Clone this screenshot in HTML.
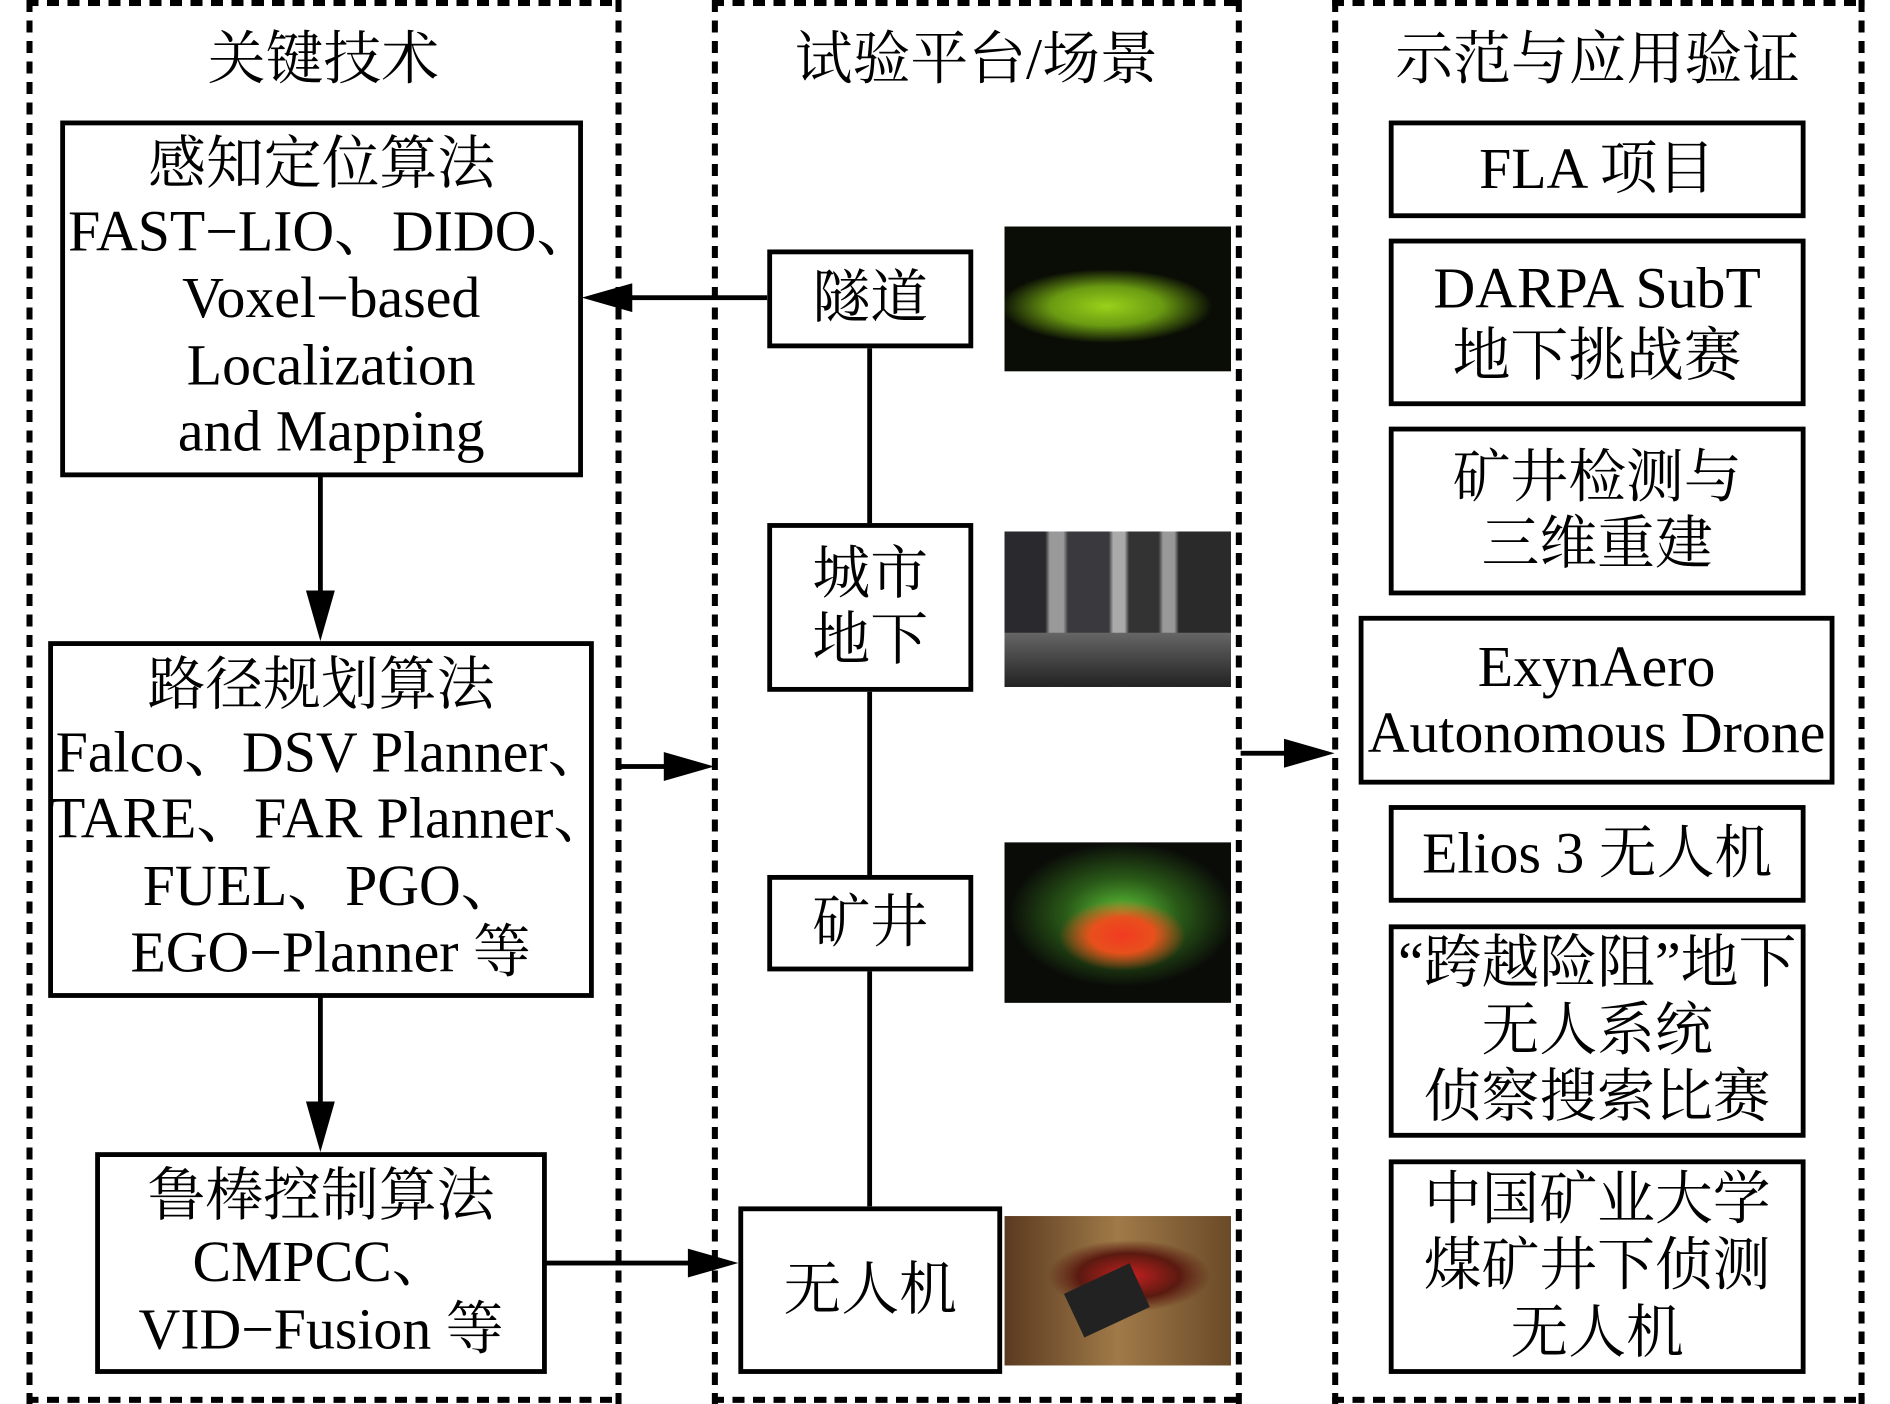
<!DOCTYPE html>
<html><head><meta charset="utf-8"><style>
html,body{margin:0;padding:0;background:#fff;width:1890px;height:1404px;overflow:hidden}
#c{position:absolute;left:0;top:0;width:1556px;height:1165px;transform-origin:0 0;transform:scale(1.2045,1.2052);font-family:"Liberation Serif","Noto Serif CJK SC",serif;color:#000}
.v{position:absolute;top:0;width:5px;height:1165px;background:repeating-linear-gradient(180deg,#000 0 10px,transparent 10px 17px)}
.hz{position:absolute;height:5px;background:repeating-linear-gradient(90deg,#000 0 10px,transparent 10px 17px)}
.h{position:absolute;font-size:48px;text-align:center;line-height:48px}
.b{position:absolute;border:4px solid #000;box-sizing:border-box;display:flex;flex-direction:column;justify-content:center;align-items:center;text-align:center;font-size:48px;line-height:55.5px;white-space:nowrap}
.s{position:relative;left:8px}
.l{position:absolute;background:#000}
.img{position:absolute;overflow:hidden}
</style></head><body><div id="c">
<div class="v" style="left:22px"></div><div class="v" style="left:511px"></div>
<div class="v" style="left:591px"></div><div class="v" style="left:1026px"></div>
<div class="v" style="left:1106px"></div><div class="v" style="left:1543px"></div>
<div class="hz" style="left:22px;width:494px;top:0"></div><div class="hz" style="left:22px;width:494px;top:1159px"></div>
<div class="hz" style="left:591px;width:440px;top:0"></div><div class="hz" style="left:591px;width:440px;top:1159px"></div>
<div class="hz" style="left:1106px;width:442px;top:0"></div><div class="hz" style="left:1106px;width:442px;top:1159px"></div>

<div class="h" style="left:24px;width:489px;top:26px">关键技术</div>
<div class="h" style="left:593px;width:435px;top:26px">试验平台/场景</div>
<div class="h" style="left:1108px;width:437px;top:26px">示范与应用验证</div>

<div class="b" style="left:50px;top:100px;width:434px;height:296px"><div>感知定位算法</div><div class="s">FAST−LIO、DIDO、</div><div class="s">Voxel−based</div><div class="s">Localization</div><div class="s">and Mapping</div></div>
<div class="b" style="left:40px;top:532px;width:453px;height:296px;overflow:visible"><div>路径规划算法</div><div class="s">Falco、DSV Planner、</div><div class="s">TARE、FAR Planner、</div><div class="s">FUEL、PGO、</div><div class="s">EGO−Planner 等</div></div>
<div class="b" style="left:79px;top:956px;width:375px;height:184px"><div>鲁棒控制算法</div><div>CMPCC、</div><div>VID−Fusion 等</div></div>

<div class="l" style="left:264px;top:395px;width:4px;height:110px"></div>
<svg style="position:absolute;left:254px;top:490px" width="24" height="42"><polygon points="0,0 24,0 12,42" fill="#000"/></svg>
<div class="l" style="left:264px;top:827px;width:4px;height:104px"></div>
<svg style="position:absolute;left:254px;top:914px" width="24" height="42"><polygon points="0,0 24,0 12,42" fill="#000"/></svg>

<div class="l" style="left:505px;top:245px;width:132px;height:4px"></div>
<svg style="position:absolute;left:483px;top:235px" width="42" height="24"><polygon points="0,12 42,0 42,24" fill="#000"/></svg>
<div class="l" style="left:513px;top:634px;width:45px;height:4px"></div>
<svg style="position:absolute;left:551px;top:624px" width="42" height="24"><polygon points="0,0 42,12 0,24" fill="#000"/></svg>
<div class="l" style="left:1030px;top:623px;width:45px;height:4px"></div>
<svg style="position:absolute;left:1066px;top:613px" width="42" height="24"><polygon points="0,0 42,12 0,24" fill="#000"/></svg>
<div class="l" style="left:453px;top:1046px;width:125px;height:4px"></div>
<svg style="position:absolute;left:571px;top:1036px" width="42" height="24"><polygon points="0,0 42,12 0,24" fill="#000"/></svg>

<div class="l" style="left:720px;top:288px;width:4px;height:713px"></div>
<div class="b" style="left:637px;top:207px;width:171px;height:82px;background:#fff">隧道</div>
<div class="b" style="left:637px;top:434px;width:171px;height:140px;background:#fff"><div>城市</div><div>地下</div></div>
<div class="b" style="left:637px;top:726px;width:171px;height:80px;background:#fff">矿井</div>
<div class="b" style="left:613px;top:1001px;width:219px;height:139px;background:#fff">无人机</div>

<div class="img" style="left:834px;top:188px;width:188px;height:120px;background:radial-gradient(ellipse 55% 30% at 45% 55%,#9ad11a 0%,#6a9a12 45%,#0a0d05 85%),#050505"></div>
<div class="img" style="left:834px;top:441px;width:188px;height:129px;background:linear-gradient(90deg,#2a2a2e 0 18%,#999 20% 26%,#3a3a3e 28% 46%,#aaa 48% 53%,#333 55% 68%,#999 70% 75%,#2a2a2a 77%),#333"><div style="position:absolute;left:0;right:0;bottom:0;height:35%;background:linear-gradient(180deg,#666,#222)"></div></div>
<div class="img" style="left:834px;top:699px;width:188px;height:133px;background:radial-gradient(ellipse 28% 22% at 52% 58%,#f23a22 0%,#e8501c 50%,rgba(0,0,0,0) 100%),radial-gradient(ellipse 50% 45% at 52% 45%,#5fc83a 0%,#2a5a18 50%,#0a0c08 100%),#0a0a0a"></div>
<div class="img" style="left:834px;top:1009px;width:188px;height:124px;background:radial-gradient(ellipse 45% 30% at 55% 40%,#c42020 0%,#5a1a10 50%,rgba(0,0,0,0) 80%),linear-gradient(90deg,#5a3a20,#a07a48,#6a4a28)"><div style="position:absolute;left:55px;top:50px;width:60px;height:40px;background:#222;transform:rotate(-25deg)"></div></div>

<div class="b" style="left:1153px;top:100px;width:346px;height:81px">FLA 项目</div>
<div class="b" style="left:1153px;top:198px;width:346px;height:139px"><div>DARPA SubT</div><div>地下挑战赛</div></div>
<div class="b" style="left:1153px;top:354px;width:346px;height:140px"><div>矿井检测与</div><div>三维重建</div></div>
<div class="b" style="left:1128px;top:511px;width:395px;height:140px"><div>ExynAero</div><div>Autonomous Drone</div></div>
<div class="b" style="left:1153px;top:668px;width:346px;height:81px">Elios 3 无人机</div>
<div class="b" style="left:1153px;top:767px;width:346px;height:177px"><div>“跨越险阻”地下</div><div>无人系统</div><div>侦察搜索比赛</div></div>
<div class="b" style="left:1153px;top:962px;width:346px;height:178px"><div>中国矿业大学</div><div>煤矿井下侦测</div><div>无人机</div></div>
</div></body></html>
